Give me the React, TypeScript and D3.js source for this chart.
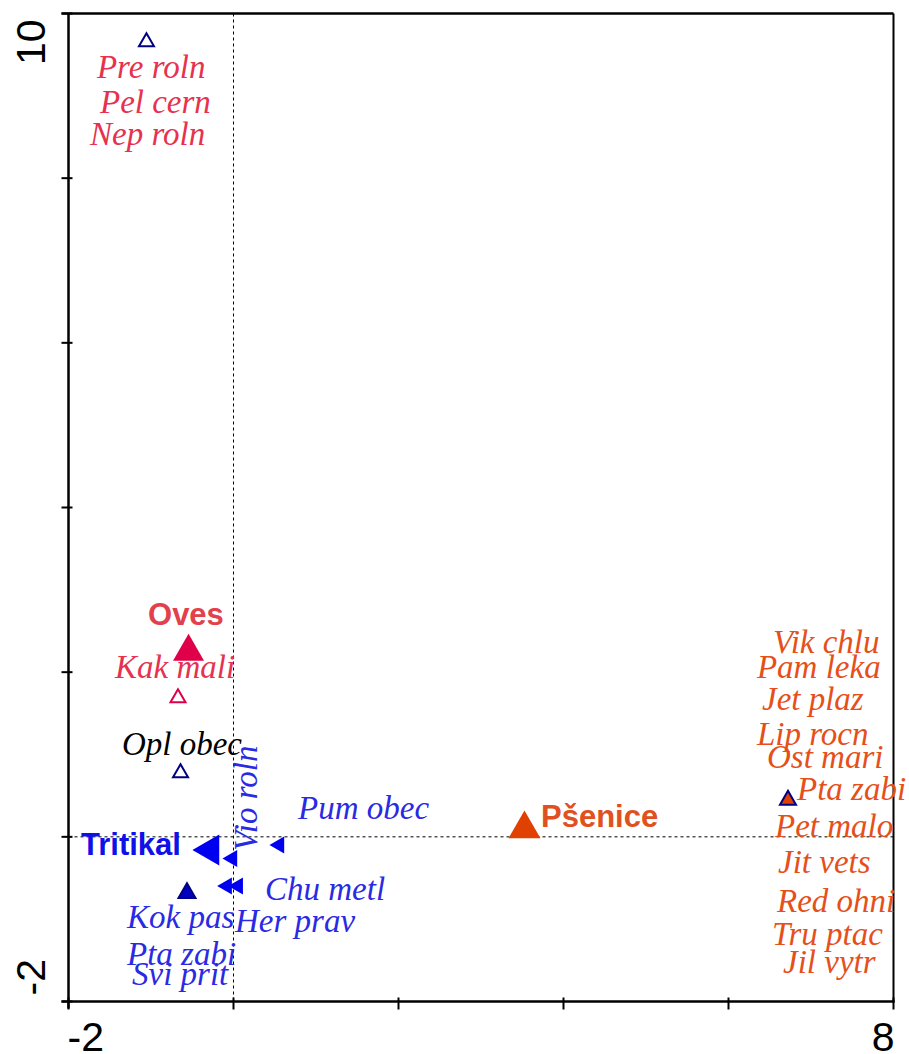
import React from 'react';
import * as d3 from 'd3';

// ---- data (ordination scores, axis units) ----
const xTicks = [-2, 0, 2, 4, 6, 8];
const yTicks = [-2, 0, 2, 4, 6, 8, 10];
const xTickLabels = [{ v: -2, t: '-2' }, { v: 8, t: '8' }];
const yTickLabels = [{ v: -2, t: '-2' }, { v: 10, t: '10' }];

const redSpecies = [
  { name: 'Pre roln', x: -1.655, y: 9.217 },
  { name: 'Pel cern', x: -1.618, y: 8.791 },
  { name: 'Nep roln', x: -1.739, y: 8.402 },
  { name: 'Kak mali', x: -1.436, y: 1.929 },
];
const blackSpecies = [{ name: 'Opl obec', x: -1.352, y: 0.994 }];
const blueSpecies = [
  { name: 'Pum obec', x: 0.782, y: 0.216 },
  { name: 'Chu metl', x: 0.382, y: -0.768 },
  { name: 'Kok pas', x: -1.291, y: -1.108 },
  { name: 'Her prav', x: 0.018, y: -1.157 },
  { name: 'Pta zabi', x: -1.291, y: -1.558 },
  { name: 'Svi prit', x: -1.23, y: -1.801 },
];
const blueRotatedSpecies = [{ name: 'Vio roln', x: 0.285, y: -0.172 }];
const orangeSpecies = [
  { name: 'Vik chlu', x: 6.539, y: 2.233 },
  { name: 'Pam leka', x: 6.345, y: 1.929 },
  { name: 'Jet plaz', x: 6.406, y: 1.54 },
  { name: 'Lip rocn', x: 6.345, y: 1.115 },
  { name: 'Ost mari', x: 6.467, y: 0.836 },
  { name: 'Pta zabi', x: 6.83, y: 0.447 },
  { name: 'Pet malo', x: 6.564, y: -0.002 },
  { name: 'Jit vets', x: 6.6, y: -0.44 },
  { name: 'Red ohni', x: 6.588, y: -0.913 },
  { name: 'Tru ptac', x: 6.527, y: -1.314 },
  { name: 'Jil vytr', x: 6.661, y: -1.655 },
];

const openSamples = [
  { x: -1.055, y: 9.654, group: 'navy' },
  { x: -0.673, y: 1.686, group: 'red' },
  { x: -0.642, y: 0.775, group: 'navy' },
];
const filledSamples = [
  { x: -0.564, y: -0.683, group: 'navy' },
  { x: 6.721, y: 0.447, group: 'orange' },
];
const blueSpeciesPoints = [
  { x: -0.015, y: -0.264 },
  { x: 0.555, y: -0.1 },
  { x: -0.079, y: -0.598 },
  { x: 0.055, y: -0.598 },
];
const centroids = [
  { name: 'Oves', x: -0.545, y: 2.248, group: 'red', dir: 'up' },
  { name: 'Pšenice', x: 3.527, y: 0.095, group: 'orange', dir: 'up' },
  { name: 'Tritikal', x: -0.281, y: -0.16, group: 'blue', dir: 'left' },
];
const centroidLabels = [
  { name: 'Oves', x: -1.036, y: 2.573, group: 'red' },
  { name: 'Pšenice', x: 3.727, y: 0.119, group: 'orange' },
  { name: 'Tritikal', x: -1.848, y: -0.221, group: 'blue' },
];

// ---- styles ----
const W = 909;
const H = 1054;
const colors: Record<string, string> = {
  red: '#E6324F',
  redLabel: '#E2404C',
  redMark: '#E0004A',
  orange: '#E5501A',
  orangeLabel: '#E05020',
  orangeMark: '#E04000',
  blue: '#2A2AE4',
  blueLabel: '#1010E8',
  blueMark: '#0000F0',
  navy: '#000080',
  navyFill: '#0000C0',
};
const serif = '"Liberation Serif", "Times New Roman", serif';
const sans = '"Liberation Sans", Arial, sans-serif';

export default function App() {
  const x = d3.scaleLinear().domain([-2, 8]).range([68.5, 893.5]);
  const y = d3.scaleLinear().domain([-2, 10]).range([1001.5, 13.5]);
  const tri = (side: number) =>
    d3.symbol().type(d3.symbolTriangle).size((Math.sqrt(3) / 4) * side * side)() as string;

  const left = x(-2);
  const right = x(8);
  const top = y(10);
  const bottom = y(-2);

  const labelCol = (g: string) =>
    g === 'red' ? colors.redLabel : g === 'orange' ? colors.orangeLabel : colors.blueLabel;
  const markCol = (g: string) =>
    g === 'red' ? colors.redMark : g === 'orange' ? colors.orangeMark : colors.blueMark;

  const speciesText = (arr: { name: string; x: number; y: number }[], fill: string, key: string) =>
    arr.map((d, i) => (
      <text
        key={key + i}
        x={x(d.x)}
        y={y(d.y)}
        fill={fill}
        fontFamily={serif}
        fontStyle="italic"
        fontSize={33}
      >
        {d.name}
      </text>
    ));

  return (
    <svg
      width={W}
      height={H}
      style={{ position: 'absolute', left: 0, top: 0, background: '#fff' }}
    >
      <rect x={0} y={0} width={W} height={H} fill="#fff" />
      {/* zero lines */}
      <line x1={x(0)} x2={x(0)} y1={top} y2={bottom} stroke="#000" strokeWidth={1} strokeDasharray="3,3" />
      <line x1={left} x2={right} y1={y(0)} y2={y(0)} stroke="#000" strokeWidth={1} strokeDasharray="3,3" />

      {/* frame */}
      <line x1={left - 7} x2={right} y1={top} y2={top} stroke="#000" strokeWidth={2.5} />
      <line x1={right} x2={right} y1={top} y2={bottom + 1} stroke="#000" strokeWidth={2} />
      <line x1={left} x2={left} y1={top} y2={bottom + 7} stroke="#000" strokeWidth={2.5} />
      <line x1={left - 7} x2={right + 1} y1={bottom} y2={bottom} stroke="#000" strokeWidth={2.5} />
      {yTicks.map((t) => (
        <line key={'yt' + t} x1={left - 7} x2={left + 4} y1={y(t)} y2={y(t)} stroke="#000" strokeWidth={2} />
      ))}
      {xTicks.map((t) => (
        <line key={'xt' + t} x1={x(t)} x2={x(t)} y1={bottom - 4} y2={bottom + 8} stroke="#000" strokeWidth={2} />
      ))}
      {xTickLabels.map((d, i) => (
        <text
          key={'xl' + i}
          x={i === 0 ? x(d.v) - 1 : x(d.v) + 1}
          y={1051}
          textAnchor={i === 0 ? 'start' : 'end'}
          fontFamily={sans}
          fontSize={41}
          fill="#000"
        >
          {d.t}
        </text>
      ))}
      {yTickLabels.map((d, i) => (
        <text
          key={'yl' + i}
          transform={`translate(45,${i === 0 ? y(d.v) - 6 : y(d.v) + 6}) rotate(-90)`}
          textAnchor={i === 0 ? 'start' : 'end'}
          fontFamily={sans}
          fontSize={41}
          fill="#000"
        >
          {d.t}
        </text>
      ))}

      {/* markers */}
      {openSamples.map((d, i) => (
        <path
          key={'os' + i}
          d={tri(15)}
          transform={`translate(${x(d.x)},${y(d.y)})`}
          fill="#fff"
          stroke={d.group === 'red' ? colors.redMark : colors.navy}
          strokeWidth={2}
        />
      ))}
      {filledSamples.map((d, i) => (
        <path
          key={'fs' + i}
          d={tri(d.group === 'navy' ? 17 : 16)}
          transform={`translate(${x(d.x)},${y(d.y)})`}
          fill={d.group === 'navy' ? colors.navyFill : colors.orangeMark}
          stroke={colors.navy}
          strokeWidth={2}
        />
      ))}
      {blueSpeciesPoints.map((d, i) => (
        <path
          key={'bs' + i}
          d={tri(17)}
          transform={`translate(${x(d.x)},${y(d.y)}) rotate(-90)`}
          fill={colors.blueMark}
        />
      ))}
      {centroids.map((d, i) => (
        <path
          key={'c' + i}
          d={tri(d.name === 'Pšenice' ? 32 : 31)}
          transform={`translate(${x(d.x)},${y(d.y)}) rotate(${d.dir === 'left' ? -90 : 0})`}
          fill={markCol(d.group)}
        />
      ))}

      {/* labels */}
      {speciesText(redSpecies, colors.red, 'r')}
      {speciesText(blackSpecies, '#000', 'k')}
      {speciesText(blueSpecies, colors.blue, 'b')}
      {speciesText(orangeSpecies, colors.orange, 'o')}
      {blueRotatedSpecies.map((d, i) => (
        <text
          key={'vr' + i}
          transform={`translate(${x(d.x)},${y(d.y)}) rotate(-90)`}
          fill={colors.blue}
          fontFamily={serif}
          fontStyle="italic"
          fontSize={33}
        >
          {d.name}
        </text>
      ))}
      {centroidLabels.map((d, i) => (
        <text
          key={'cl' + i}
          x={x(d.x)}
          y={y(d.y)}
          fill={labelCol(d.group)}
          fontFamily={sans}
          fontWeight="bold"
          fontSize={31}
        >
          {d.name}
        </text>
      ))}
    </svg>
  );
}
